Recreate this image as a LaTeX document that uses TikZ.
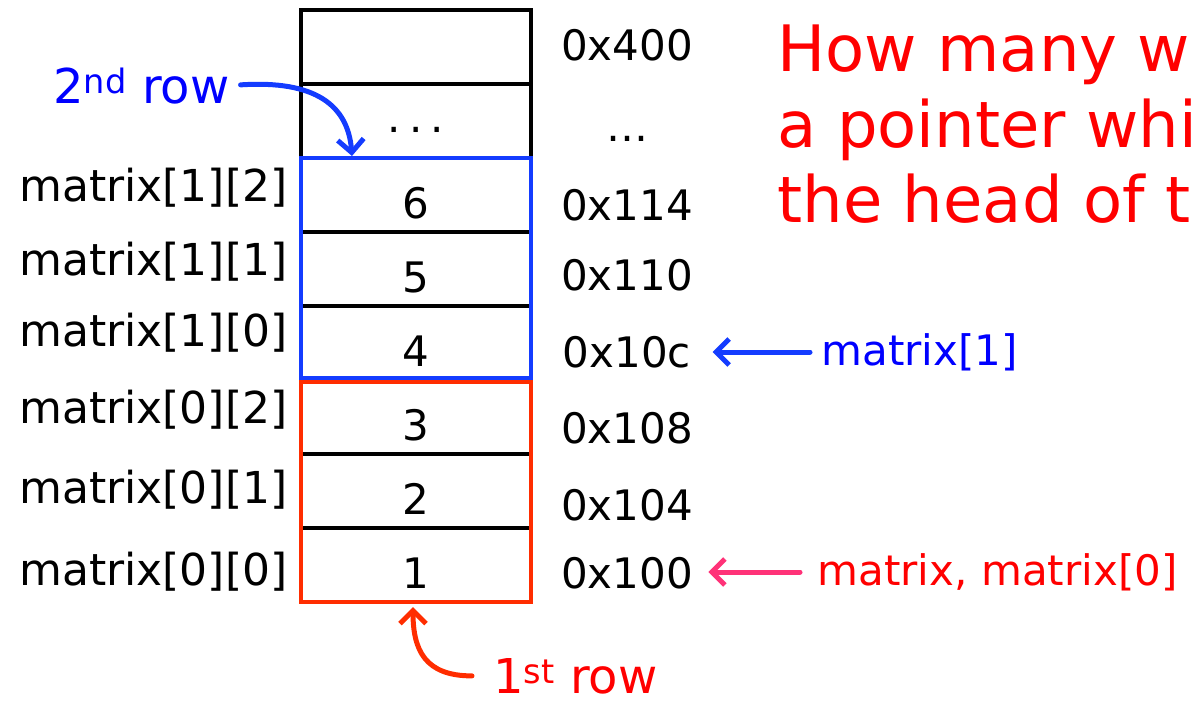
\documentclass[tikz,border=0pt]{standalone}
\usepackage{fontspec}
\setmainfont{DejaVu Sans}
\usetikzlibrary{arrows.meta}
\definecolor{rowblue}{RGB}{20,60,255}
\definecolor{rowred}{RGB}{255,45,0}
\definecolor{ptrpink}{RGB}{255,50,120}

\begin{document}
\begin{tikzpicture}[x = 1pt, y = -1pt,
    font = \fontsize{42}{48}\selectfont,
    cell/.style = {draw, line width = 4pt, outer sep = 0pt, inner sep = 0pt,
                   minimum width = 230pt, minimum height = 74pt,
                   text height = 46pt, text depth = 0pt},
    rowlabel/.style = {anchor = base west, inner sep = 1pt,
                       font = \fontsize{48}{54}\selectfont},
    question/.style = {red, anchor = base west, font = \fontsize{64}{75}\selectfont},
    ptr/.style = {line width = 5pt, line cap = round,
                  -{Straight Barb[length = 13pt, width = 26pt]}}]
  \useasboundingbox (0,0) rectangle (1192,701);
  \foreach \val [count = \i] in {{}, {·\hspace{8pt}·\hspace{8pt}·}, 6, 5, 4, 3, 2, 1}
    \node [cell] (c\i) at (416, 74*\i - 27) {\val};
  \foreach \addr/\y [count = \i] in {0x400/45, \ldots/139, 0x114/205, 0x110/275,
                                    0x10c/352, 0x108/428, 0x104/505, 0x100/573}
    \node (a\i) at (627, \y) {\addr};
  \foreach \lbl/\y [count = \i from 3] in {{matrix[1][2]}/188, {matrix[1][1]}/262,
                                          {matrix[1][0]}/333, {matrix[0][2]}/410,
                                          {matrix[0][1]}/490, {matrix[0][0]}/572}
    \node [anchor = east, font = \fontsize{44}{50}\selectfont] (l\i) at (291, \y) {\lbl};
  \draw [rowred, line width = 4pt] ([yshift = -2pt]c6.north west) rectangle (c8.south east);
  \draw [rowblue, line width = 4pt] (c3.north west) rectangle ([yshift = 2pt]c5.south east);
  \node [blue, anchor = west] (m1) at (818, 352) {matrix[1]};
  \node [red, anchor = west] (m0) at (814, 572) {matrix, matrix[0]};
  \draw [ptr, rowblue, shorten < = 8pt, shorten > = 18pt] (m1.west) -- (a5.east |- m1.west);
  \draw [ptr, ptrpink, shorten < = 14pt, shorten > = 12pt] (m0.west) -- (a8.east |- m0.west);
  \node [rowlabel, blue] (r2) at (52, 103) {2\textsuperscript{nd} row};
  \node [rowlabel, red] (r1) at (492, 693) {1\textsuperscript{st} row};
  \coordinate (t2) at (352, 156);
  \coordinate (t1) at (413, 607);
  \draw [ptr, rowblue, shorten < = 10pt] (r2.east) .. controls (315, 80) and (348, 105) .. (t2);
  \draw [ptr, rowred, shorten < = 20pt] (r1.west) .. controls (425, 676) and (413, 650) .. (t1);
  \node [question] (q1) at (774, 72) {How many w};
  \node [question] (q2) at (774, 147) {a pointer whi};
  \node [question] (q3) at (774, 222) {the head of t};
\end{tikzpicture}
\end{document}
